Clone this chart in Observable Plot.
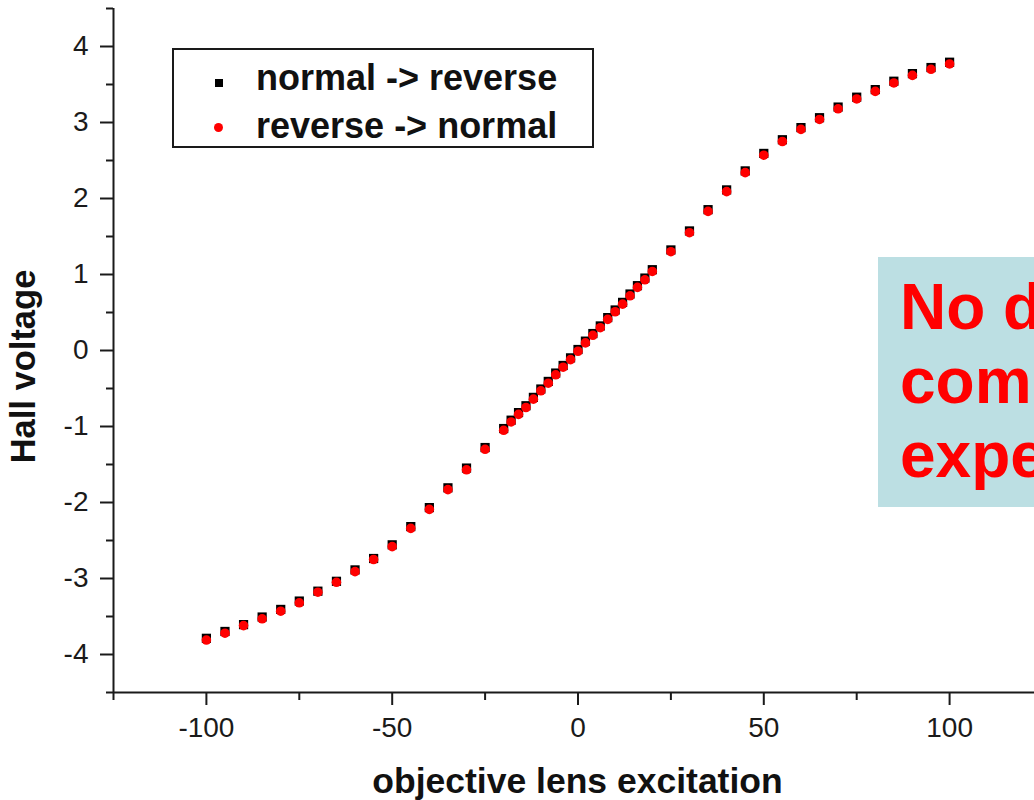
<!DOCTYPE html>
<html>
<head>
<meta charset="utf-8">
<script src="https://cdn.jsdelivr.net/npm/d3@7"></script>
<script src="https://cdn.jsdelivr.net/npm/@observablehq/plot@0.6"></script>
<style>
  html, body { margin: 0; padding: 0; background: #fff; overflow: hidden; }
  #wrap { position: relative; width: 1034px; height: 800px; overflow: hidden; font-family: "Liberation Sans", Arial, sans-serif; }
  #legend { position: absolute; left: 172px; top: 48px; width: 418px; height: 96px; border: 2px solid #1a1a1a; background: #fff; }
  .lg-row { position: absolute; left: 0; font-weight: bold; font-size: 36px; color: #111; white-space: nowrap; line-height: 40px; }
  .lg-mark { position: absolute; }
  #note { position: absolute; left: 878px; top: 257px; width: 156px; height: 250px; background: #bcdfe3; overflow: hidden; }
  #note div { position: absolute; left: 22px; font-weight: bold; font-size: 64px; line-height: 74px; color: #ff0000; white-space: nowrap; }
</style>
</head>
<body>
<div id="wrap"></div>
<script>
// x: objective lens excitation
const excitation = [-100,-95,-90,-85,-80,-75,-70,-65,-60,-55,-50,-45,-40,-35,-30,-25,-20,
  -18,-16,-14,-12,-10,-8,-6,-4,-2,0,2,4,6,8,10,12,14,16,18,
  20,25,30,35,40,45,50,55,60,65,70,75,80,85,90,95,100];
// Hall voltage, series "normal -> reverse"
const hallNormalToReverse = [-3.80,-3.71,-3.62,-3.52,-3.42,-3.31,-3.18,-3.05,-2.90,-2.75,-2.57,-2.33,-2.08,-1.82,-1.56,-1.29,-1.04,
  -0.93,-0.83,-0.74,-0.63,-0.52,-0.42,-0.31,-0.21,-0.11,0.00,0.11,0.21,0.31,0.42,0.52,0.62,0.73,0.84,0.94,
  1.05,1.31,1.56,1.84,2.10,2.35,2.58,2.76,2.92,3.05,3.19,3.32,3.42,3.53,3.63,3.71,3.78];
// Hall voltage, series "reverse -> normal"
const hallReverseToNormal = [-3.81,-3.72,-3.62,-3.53,-3.43,-3.32,-3.18,-3.05,-2.91,-2.75,-2.58,-2.34,-2.09,-1.83,-1.57,-1.30,-1.05,
  -0.94,-0.84,-0.75,-0.64,-0.53,-0.43,-0.32,-0.22,-0.12,-0.01,0.10,0.20,0.30,0.41,0.51,0.61,0.72,0.83,0.93,
  1.04,1.30,1.55,1.83,2.09,2.34,2.57,2.75,2.91,3.04,3.18,3.31,3.41,3.52,3.62,3.70,3.77];
const seriesNames = ["normal -> reverse", "reverse -> normal"];
const xMajorTicks = [-100, -50, 0, 50, 100];
const xMinorTicks = [-125, -75, -25, 25, 75];
const yMajorTicks = [-4, -3, -2, -1, 0, 1, 2, 3, 4];
const yMinorTicks = [-4.5, -3.5, -2.5, -1.5, -0.5, 0.5, 1.5, 2.5, 3.5, 4.5];
const xTitle = "objective lens excitation";
const yTitle = "Hall voltage";
const noteLines = ["No difference", "commutation", "expected"];

const dataA = excitation.map((x, i) => ({x, y: hallNormalToReverse[i]}));
const dataB = excitation.map((x, i) => ({x, y: hallReverseToNormal[i]}));

const font = '"Liberation Sans", Arial, sans-serif';
const ink = "#1a1a1a";

const chart = Plot.plot({
  width: 1034,
  height: 800,
  marginLeft: 113,
  marginRight: 0,
  marginTop: 8,
  marginBottom: 108,
  style: {fontFamily: font, fontSize: "28px", color: ink, background: "transparent"},
  x: {domain: [-125, 122.85], axis: null},
  y: {domain: [-4.5, 4.5], axis: null},
  marks: [
    Plot.axisX({ticks: xMajorTicks, tickSize: 13, tickPadding: 12, tickFormat: d => String(d), label: null, strokeWidth: 2, fontSize: 28}),
    Plot.axisX({ticks: xMinorTicks, tickSize: 8, tickFormat: () => "", label: null, strokeWidth: 2}),
    Plot.axisY({ticks: yMajorTicks, tickSize: 13, tickPadding: 12, tickFormat: d => String(d), label: null, strokeWidth: 2, fontSize: 28}),
    Plot.axisY({ticks: yMinorTicks, tickSize: 7, tickFormat: () => "", label: null, strokeWidth: 2}),
    Plot.ruleX([-125], {stroke: ink, strokeWidth: 2}),
    Plot.ruleY([-4.5], {stroke: ink, strokeWidth: 2}),
    Plot.dot(dataA, {x: "x", y: "y", symbol: "square", r: 5.2, fill: "#000", dy: -1}),
    Plot.dot(dataB, {x: "x", y: "y", symbol: "circle", r: 4.8, fill: "#ff0000"}),
    Plot.text([xTitle], {text: d => d, frameAnchor: "bottom", textAnchor: "middle", lineAnchor: "bottom", dx: 3.5, dy: 100, fontSize: 35.5, fontWeight: "bold", fill: "#111", fontFamily: font}),
    Plot.text([yTitle], {text: d => d, frameAnchor: "left", textAnchor: "middle", lineAnchor: "bottom", rotate: -90, dx: -79, dy: 16, fontSize: 34.5, fontWeight: "bold", fill: "#111", fontFamily: font})
  ]
});

const wrap = document.getElementById("wrap");
chart.style.position = "absolute";
chart.style.left = "0";
chart.style.top = "0";
wrap.appendChild(chart);

// legend
const legend = document.createElement("div");
legend.id = "legend";
const rows = [
  {name: seriesNames[0], top: 8, mark: "square"},
  {name: seriesNames[1], top: 56, mark: "circle"}
];
rows.forEach(r => {
  const m = document.createElement("div");
  m.className = "lg-mark";
  if (r.mark === "square") {
    Object.assign(m.style, {left: "41px", top: (r.top + 21) + "px", width: "8px", height: "8px", background: "#000"});
  } else {
    Object.assign(m.style, {left: "40px", top: (r.top + 17) + "px", width: "9px", height: "9px", background: "#ff0000", borderRadius: "50%"});
  }
  legend.appendChild(m);
  const t = document.createElement("div");
  t.className = "lg-row";
  t.style.left = "82px";
  t.style.top = (r.top) + "px";
  t.textContent = r.name;
  legend.appendChild(t);
});
wrap.appendChild(legend);

// annotation box
const note = document.createElement("div");
note.id = "note";
noteLines.forEach((line, i) => {
  const d = document.createElement("div");
  d.style.top = (13 + i * 74) + "px";
  d.textContent = line;
  note.appendChild(d);
});
wrap.appendChild(note);
</script>
</body>
</html>
